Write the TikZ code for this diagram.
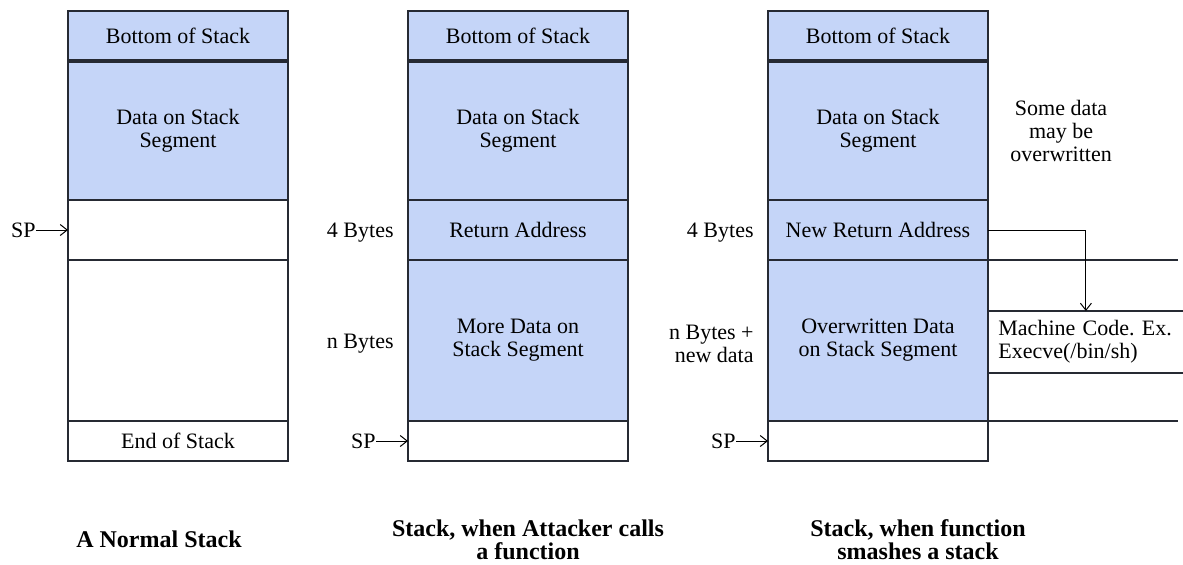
\documentclass[tikz,border=0pt]{standalone}
\usepackage{fontspec}
\setmainfont{Liberation Serif}
\usetikzlibrary{arrows.meta,positioning,calc}
\definecolor{stackBlue}{HTML}{C5D5F8}
\definecolor{stackLine}{HTML}{262A33}
\frenchspacing

\begin{document}
\begin{tikzpicture}[
    every node/.style={font=\fontsize{11}{11.5}\selectfont},
    cell/.style={draw=stackLine, line width=0.7pt, minimum width=110pt,
                 inner sep=0pt, outer sep=0pt, align=center},
    full/.style={cell, fill=stackBlue},
    side/.style={inner sep=0pt, align=right, yshift=-1.5pt},
    sptag/.style={inner sep=0pt},
    caption/.style={inner sep=0pt, align=center,
                    font=\fontsize{12}{11.5}\selectfont\bfseries},
    ptr/.style={-{Straight Barb[length=3.5pt, width=5.5pt]}, line width=0.5pt},
  ]
  \useasboundingbox (-89pt,18pt) rectangle (502.5pt,-264pt);

  % Left column - normal stack
  \node[full, minimum height=25pt] (bot1) at (0,0) {Bottom of Stack};
  \node[full, minimum height=69.5pt, below=0pt of bot1] (data1)
    {Data on Stack\\Segment};
  \node[cell, minimum height=30pt, below=0pt of data1] (sp1) {};
  \node[cell, minimum height=80.5pt, below=0pt of sp1] (free1) {};
  \node[cell, minimum height=20pt, below=0pt of free1] (end1) {End of Stack};
  \draw[stackLine, line width=1.6pt] (bot1.south west) -- (bot1.south east);

  \node[sptag, left=16pt of sp1] (spl1) {SP};
  \draw[ptr] (spl1.east) -- (sp1.west);

  % Middle column - attacker calls a function
  \node[full, minimum height=25pt, right=60pt of bot1] (bot2) {Bottom of Stack};
  \node[full, minimum height=69.5pt, below=0pt of bot2] (data2)
    {Data on Stack\\Segment};
  \node[full, minimum height=30pt, below=0pt of data2] (ret2) {Return Address};
  \node[full, minimum height=80.5pt, below=0pt of ret2] (more2)
    {More Data on\\Stack Segment};
  \node[cell, minimum height=20pt, below=0pt of more2] (sp2) {};
  \draw[stackLine, line width=1.6pt] (bot2.south west) -- (bot2.south east);

  \node[side, left=7pt of ret2] (ret2l) {4 Bytes};
  \node[side, left=7pt of more2] (more2l) {n Bytes};
  \node[sptag, left=16pt of sp2] (spl2) {SP};
  \draw[ptr] (spl2.east) -- (sp2.west);

  % Right column - function smashes the stack
  \node[full, minimum height=25pt, right=70pt of bot2] (bot3) {Bottom of Stack};
  \node[full, minimum height=69.5pt, below=0pt of bot3] (data3)
    {Data on Stack\\Segment};
  \node[full, minimum height=30pt, below=0pt of data3] (ret3)
    {New Return Address};
  \node[full, minimum height=80.5pt, below=0pt of ret3] (over3)
    {Overwritten Data\\on Stack Segment};
  \node[cell, minimum height=20pt, below=0pt of over3] (sp3) {};
  \draw[stackLine, line width=1.6pt] (bot3.south west) -- (bot3.south east);

  \node[side, left=7pt of ret3] (ret3l) {4 Bytes};
  \node[side, left=7pt of over3] (over3l) {n Bytes +\\new data};
  \node[sptag, left=16pt of sp3] (spl3) {SP};
  \draw[ptr] (spl3.east) -- (sp3.west);

  \node[inner sep=0pt, align=center, right=11pt of data3] (note3)
    {Some data\\may be\\overwritten};

  % Injected code beside the stack
  \node[inner xsep=5pt, inner ysep=0pt, text width=87.5pt, align=left,
        minimum height=30.5pt, below right=25.5pt and 0pt of over3.north east]
    (code3) {\mbox{Machine Code. Ex.}\\\mbox{Execve(/bin/sh)}};
  \draw[stackLine, line width=0.7pt] (code3.north west) -- (code3.north east)
    (code3.south west) -- (code3.south east);
  \draw[stackLine, line width=0.7pt] (ret3.south east) -- ++(95pt,0);
  \draw[stackLine, line width=0.7pt] (over3.south east) -- ++(95pt,0);
  \draw[ptr] (ret3.east) -| (code3.north);

  % Captions
  \node[caption] (cap1) at ($(end1.south)+(-9.5pt,-39pt)$) {A Normal Stack};
  \node[caption] (cap2) at ($(sp2.south)+(5pt,-39.5pt)$)
    {Stack, when Attacker calls\\a function};
  \node[caption] (cap3) at ($(sp3.south)+(20pt,-39.5pt)$)
    {Stack, when function\\smashes a stack};
\end{tikzpicture}
\end{document}
